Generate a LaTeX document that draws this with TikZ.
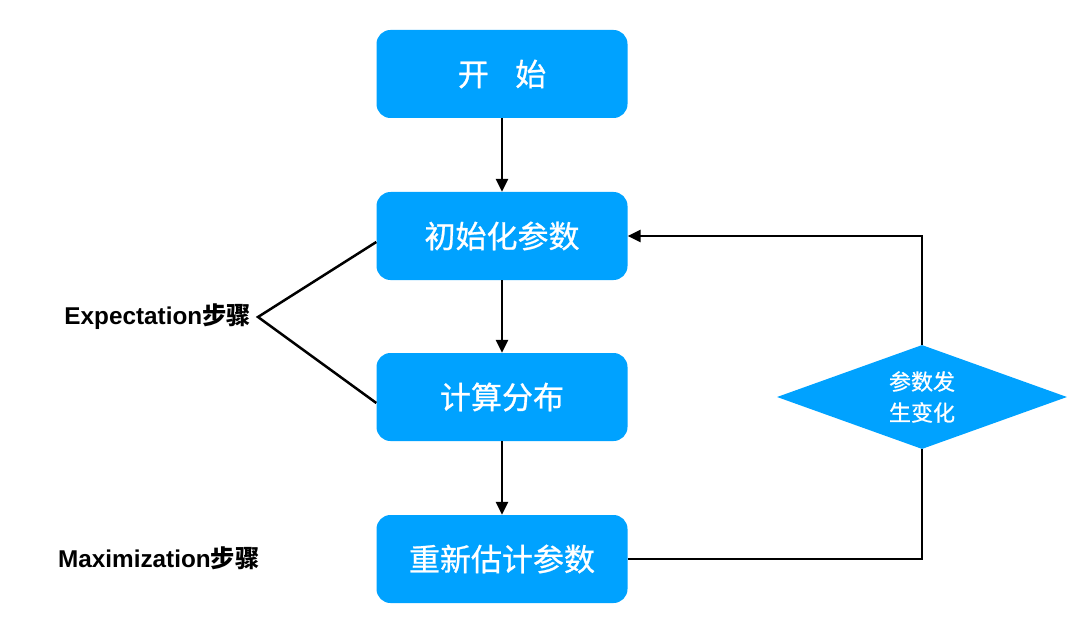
\documentclass[tikz,border=0pt]{standalone}
\usepackage{fontspec}
\setmainfont{Liberation Sans}
\newfontfamily\cjk{Noto Sans CJK SC}
\newfontfamily\cjkm[FakeBold=0.8]{Noto Sans CJK SC}
\usetikzlibrary{shapes.geometric,arrows.meta,positioning}
\definecolor{boxblue}{RGB}{0,162,255}
\tikzset{
  stepbox/.style={rectangle, rounded corners=14pt, fill=boxblue, draw=none,
    minimum width=251pt, minimum height=88pt, inner sep=0pt,
    text=white, font=\cjkm\fontsize{31pt}{37pt}\selectfont},
  decide/.style={diamond, fill=boxblue, draw=none, minimum width=290pt,
    minimum height=104pt, inner sep=0pt},
  dtext/.style={text=white, align=center, font=\cjkm\fontsize{22pt}{31pt}\selectfont},
  conn/.style={line width=2.5pt, black},
  arr/.style={conn, -{Triangle[length=13pt,width=12pt]}},
  sidelabel/.style={font=\bfseries\fontsize{24.3pt}{28pt}\selectfont, text=black, inner sep=0pt}
}
\begin{document}
\begin{tikzpicture}[x=1pt,y=-1pt]
\useasboundingbox (0,0) rectangle (1089,631);
\node[stepbox] (b1) at (502,74) {开\hspace{0.85em}始};
\node[stepbox] (b2) at (502,236) {初始化参数};
\node[stepbox] (b3) at (502,397) {计算分布};
\node[stepbox] (b4) at (502,559) {重新估计参数};
\node[decide] (d) at (922,397) {};
\node[dtext] (dt) at (d.center) {参数发\\生变化};
\draw[arr] (b1) -- (b2);
\draw[arr] (b2) -- (b3);
\draw[arr] (b3) -- (b4);
\draw[conn] (b4.east) -| (d.south);
\draw[arr] (d.north) |- (b2.east);
\coordinate (ex) at (258,317);
\draw[conn] ([yshift=-6pt]b2.west) -- (ex) -- ([yshift=-6pt]b3.west);
\node[sidelabel, anchor=east] (el) at (251,317) {Expectation{\cjk 步骤}};
\node[sidelabel, anchor=west] (ml) at (58,558) {Maximization{\cjk 步骤}};
\end{tikzpicture}
\end{document}
